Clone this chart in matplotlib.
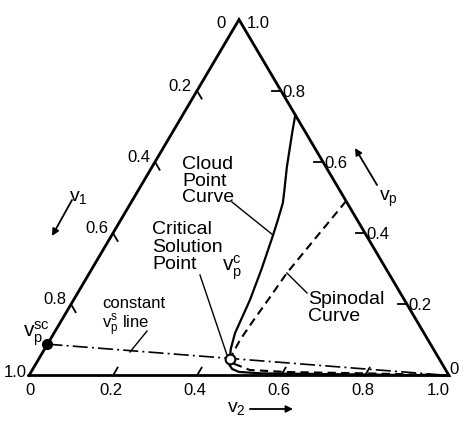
import numpy as np
import matplotlib
matplotlib.use('Agg')
import matplotlib.pyplot as plt

plt.rcParams['font.family'] = ['Liberation Sans', 'DejaVu Sans']
plt.rcParams['mathtext.fontset'] = 'custom'
plt.rcParams['mathtext.rm'] = 'Liberation Sans'
plt.rcParams['mathtext.it'] = 'Liberation Sans'

# volume fractions (v2 = non-solvent, vp = polymer)
tick_vals = [0.2, 0.4, 0.6, 0.8]
tick_text = ['0.2', '0.4', '0.6', '0.8']

cloud_v2 = [0.268, 0.286, 0.321, 0.348, 0.362, 0.374, 0.384, 0.404, 0.420, 0.431, 0.443,
            0.455, 0.462, 0.475, 0.495, 0.55, 0.70, 0.85, 1.0]
cloud_vp = [0.732, 0.681, 0.586, 0.520, 0.485, 0.437, 0.394, 0.300, 0.212, 0.119, 0.075,
            0.046, 0.030, 0.018, 0.010, 0.006, 0.004, 0.002, 0.0]

spin_v2 = [0.510, 0.490, 0.470, 0.463, 0.457, 0.4525, 0.4541, 0.455, 0.468, 0.481,
           0.518, 0.609, 0.80, 0.95, 1.0]
spin_vp = [0.490, 0.390, 0.288, 0.212, 0.155, 0.0997, 0.0632, 0.046, 0.034, 0.0295,
           0.0155, 0.0098, 0.006, 0.002, 0.0]

crit_v2, crit_vp = 0.455, 0.046
vp_sc = 0.088
const_v2 = [0.0, 1.0]
const_vp = [vp_sc, 0.0]

S3 = np.sqrt(3) / 2


def tern(v2, vp):
    v2 = np.asarray(v2, float)
    vp = np.asarray(vp, float)
    return v2 + vp / 2, vp * S3


fig = plt.figure(figsize=(4.59, 4.21), dpi=100)
ax = fig.add_axes([0, 0, 1, 1])
ax.set_xlim(-0.06905, 1.02381)
ax.set_ylim(-0.1107, 0.9136)
ax.axis('off')

# triangle frame
fx, fy = tern([0, 1, 0, 0], [0, 0, 1, 0])
ax.plot(fx, fy, 'k-', lw=2.0, solid_joinstyle='miter', zorder=3)

tl = 0.022
for v, s in zip(tick_vals, tick_text):
    # left side (v1), tick along constant v1
    x0, y0 = tern(0, 1 - v)
    ax.plot([x0, x0 + tl * 0.5], [y0, y0 - tl * S3], 'k-', lw=1.3)
    ax.text(x0 - 0.012, y0, s, ha='right', va='baseline', fontsize=12)
    # bottom (v2), tick along constant v2
    x0, y0 = tern(v, 0)
    ax.plot([x0, x0 + tl * 0.5], [y0, y0 + tl * S3], 'k-', lw=1.3)
    ax.text(x0 - 0.006, -0.018, s, ha='center', va='top', fontsize=12)
    # right side (vp), horizontal tick
    x0, y0 = tern(1 - v, v)
    ax.plot([x0, x0 - tl], [y0, y0], 'k-', lw=1.3)
    ax.text(x0 + 0.003, y0 - 0.004, s, ha='left', va='center', fontsize=12)

# corner labels
ax.text(0.467, 0.8455, '0', ha='right', va='baseline', fontsize=12)
ax.text(0.519, 0.8455, '1.0', ha='left', va='baseline', fontsize=12)
ax.text(-0.005, -0.004, '1.0', ha='right', va='baseline', fontsize=12)
ax.text(0.002, -0.018, '0', ha='center', va='top', fontsize=12)
ax.text(0.974, -0.018, '1.0', ha='center', va='top', fontsize=12)
ax.text(1.0, 0.003, '0', ha='left', va='baseline', fontsize=12)

# curves
cx, cy = tern(cloud_v2, cloud_vp)
ax.plot(cx, cy, 'k-', lw=1.6, zorder=4)
sx, sy = tern(spin_v2, spin_vp)
ax.plot(sx, sy, color='k', lw=1.5, linestyle=(0, (4, 2.5)), zorder=4)
lx, ly = tern(const_v2, const_vp)
ax.plot(lx, ly, color='k', lw=1.2, linestyle=(0, (9, 2.5, 1.2, 2.5)), zorder=4)

px, py = tern(0, vp_sc)
ax.plot(px, py, 'o', ms=7, color='k', zorder=6)
kx, ky = tern(crit_v2, crit_vp)
ax.plot(kx, ky, 'o', ms=7, mfc='white', mec='k', mew=1.5, zorder=6)

# annotations
ax.text(0.364, 0.473, 'Cloud\nPoint\nCurve', ha='left', va='center',
        fontsize=14, linespacing=0.95)
ax.plot([0.4833, 0.581], [0.4221, 0.3418], 'k-', lw=1.0)

ax.text(0.293, 0.3126, 'Critical\nSolution\nPoint', ha='left', va='center',
        fontsize=14, linespacing=1.05)
ax.plot([0.4071, 0.4714], [0.2445, 0.0499], 'k-', lw=1.0)
ax.text(0.484, 0.2616, r'$\mathrm{v}_\mathrm{p}^\mathrm{c}$', ha='center', va='center',
        fontsize=15)

ax.text(0.174, 0.174, 'constant', ha='left', va='center', fontsize=12)
ax.text(0.174, 0.122, r'$\mathrm{v}_\mathrm{p}^\mathrm{s}$ line', ha='left', va='center',
        fontsize=12)
ax.plot([0.281, 0.2405], [0.1083, 0.0572], 'k-', lw=1.0)

ax.text(0.664, 0.164, 'Spinodal\nCurve', ha='left', va='center', fontsize=14,
        linespacing=1.0)
ax.plot([0.662, 0.614], [0.2007, 0.2494], 'k-', lw=1.0)

ax.text(0.050, 0.102, r'$\mathrm{v}_\mathrm{p}^\mathrm{sc}$', ha='right', va='center',
        fontsize=15)

# component axis labels with arrows
arr = dict(arrowstyle='-|>', color='k', lw=1.3, mutation_scale=10, shrinkA=0, shrinkB=0)
ax.text(0.117, 0.434, r'$\mathrm{v}_1$', ha='center', va='center', fontsize=14)
ax.annotate('', xy=(0.0548, 0.3394), xytext=(0.1024, 0.4270), arrowprops=arr)
ax.text(0.855, 0.4294, r'$\mathrm{v}_\mathrm{p}$', ha='center', va='center', fontsize=14)
ax.annotate('', xy=(0.7762, 0.5535), xytext=(0.8286, 0.4635), arrowprops=arr)
ax.text(0.4929, -0.0791, r'$\mathrm{v}_2$', ha='center', va='center', fontsize=14)
ax.annotate('', xy=(0.6286, -0.0815), xytext=(0.526, -0.0815), arrowprops=arr)

fig.savefig('out.png', dpi=100)
